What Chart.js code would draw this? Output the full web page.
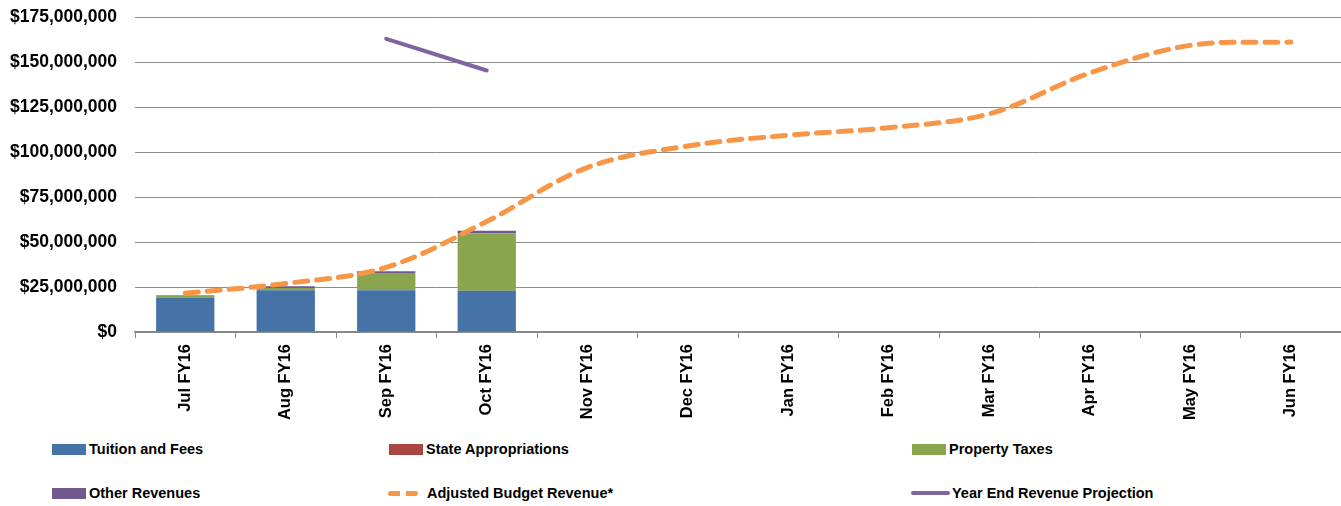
<!DOCTYPE html>
<html>
<head>
<meta charset="utf-8">
<script src="https://cdn.jsdelivr.net/npm/chart.js@4/dist/chart.umd.min.js"></script>
<style>
  body { margin: 0; background: #fff; overflow: hidden; }
  #wrap { position: relative; width: 1341px; height: 506px; overflow: hidden; }
  #box { position: absolute; left: 0; top: -11px; width: 1341px; height: 441px; }
  .leyenda { position: absolute; display: flex; align-items: center; font: bold 14.5px "Liberation Sans", sans-serif; color: #000; white-space: nowrap; }
  .muestra { width: 34px; height: 11px; margin-right: 3px; }
</style>
</head>
<body>
<div id="wrap">
  <div id="box"><canvas id="grafica"></canvas></div>
  <div id="leyenda"></div>
</div>
<script>
const meses = ["Jul FY16", "Aug FY16", "Sep FY16", "Oct FY16", "Nov FY16", "Dec FY16",
  "Jan FY16", "Feb FY16", "Mar FY16", "Apr FY16", "May FY16", "Jun FY16"];

// Ingresos reales por mes (solo Jul-Oct cerrados)
const matricula = [19.2e6, 23.3e6, 23.3e6, 22.9e6, null, null, null, null, null, null, null, null];
const asignaciones = [0, 0, 0, 0, null, null, null, null, null, null, null, null];
const impuestos = [1.1e6, 1.2e6, 9.5e6, 32.1e6, null, null, null, null, null, null, null, null];
const otros = [0.3e6, 0.9e6, 1.0e6, 1.3e6, null, null, null, null, null, null, null, null];

// Presupuesto ajustado acumulado
const presupuesto = [21.6e6, 27.0e6, 36.0e6, 61.5e6, 91.5e6, 103.5e6, 109.5e6, 113.7e6,
  121.4e6, 144.1e6, 159.5e6, 161.3e6];

// Proyección de fin de año
const proyeccion = [null, null, 163.1e6, 145.5e6, null, null, null, null, null, null, null, null];

const ticksY = [0, 25e6, 50e6, 75e6, 100e6, 125e6, 150e6, 175e6];

const fuente = "'Liberation Sans', sans-serif";

const grafica = new Chart(document.getElementById("grafica"), {
  type: "bar",
  data: {
    labels: meses,
    datasets: [
      { label: "Tuition and Fees", data: matricula, backgroundColor: "#4572A7", stack: "real", order: 2 },
      { label: "State Appropriations", data: asignaciones, backgroundColor: "#AA4643", stack: "real", order: 2 },
      { label: "Property Taxes", data: impuestos, backgroundColor: "#89A54E", stack: "real", order: 2 },
      { label: "Other Revenues", data: otros, backgroundColor: "#71588F", stack: "real", order: 2 },
      {
        type: "line", label: "Adjusted Budget Revenue*", data: presupuesto, stack: "presupuesto",
        borderColor: "#F79646", borderWidth: 5, borderDash: [13, 9], borderCapStyle: "round",
        pointRadius: 0, tension: 0.35, fill: false, order: 0
      },
      {
        type: "line", label: "Year End Revenue Projection", data: proyeccion, stack: "proyeccion",
        borderColor: "#8064A2", borderWidth: 4, borderCapStyle: "round",
        pointRadius: 0, tension: 0, fill: false, order: 0
      }
    ]
  },
  options: {
    responsive: true,
    maintainAspectRatio: false,
    animation: false,
    layout: { padding: { top: 0, right: 0, left: 0, bottom: 0 } },
    plugins: { legend: { display: false }, tooltip: { enabled: false } },
    datasets: { bar: { categoryPercentage: 1, barPercentage: 0.58 } },
    scales: {
      x: {
        stacked: true,
        grid: { drawOnChartArea: false, color: "#888", tickLength: 6, offset: true },
        border: { color: "#888", width: 1.5 },
        ticks: { minRotation: 90, maxRotation: 90, color: "#000", padding: 6, font: { family: fuente, size: 16.5, weight: "bold" } },
        afterFit: (escala) => { escala.height = 98; }
      },
      y: {
        stacked: true,
        min: 0,
        max: 175e6,
        afterBuildTicks: (escala) => { escala.ticks = ticksY.map(v => ({ value: v })); },
        grid: { color: "#8c8c8c", drawTicks: false },
        border: { display: false },
        ticks: {
          color: "#000", padding: 18,
          font: { family: fuente, size: 17.5, weight: "bold" },
          callback: (v) => "$" + v.toLocaleString("en-US")
        },
        afterFit: (escala) => { escala.width = 135; }
      }
    }
  }
});

// Leyenda en tres columnas debajo del gráfico
const posiciones = [[52, 449], [389, 449], [912, 449], [52, 493], [388, 493], [911, 493]];
const leyenda = document.getElementById("leyenda");
grafica.data.datasets.forEach((ds, i) => {
  const item = document.createElement("div");
  item.className = "leyenda";
  item.style.left = posiciones[i][0] + "px";
  item.style.top = (posiciones[i][1] - 8) + "px";
  const muestra = document.createElement("span");
  muestra.className = "muestra";
  if (ds.type === "line" && ds.borderDash) {
    muestra.style.height = "5px";
    muestra.style.width = "30px";
    muestra.style.background = "repeating-linear-gradient(90deg, " + ds.borderColor + " 0 12px, transparent 12px 18px)";
    muestra.style.borderRadius = "3px";
    muestra.style.marginRight = "9px";
  } else if (ds.type === "line") {
    muestra.style.height = "4px";
    muestra.style.width = "39px";
    muestra.style.background = ds.borderColor;
    muestra.style.borderRadius = "2px";
    muestra.style.marginRight = "2px";
  } else {
    muestra.style.background = ds.backgroundColor;
  }
  item.appendChild(muestra);
  item.appendChild(document.createTextNode(ds.label));
  leyenda.appendChild(item);
});
</script>
</body>
</html>
